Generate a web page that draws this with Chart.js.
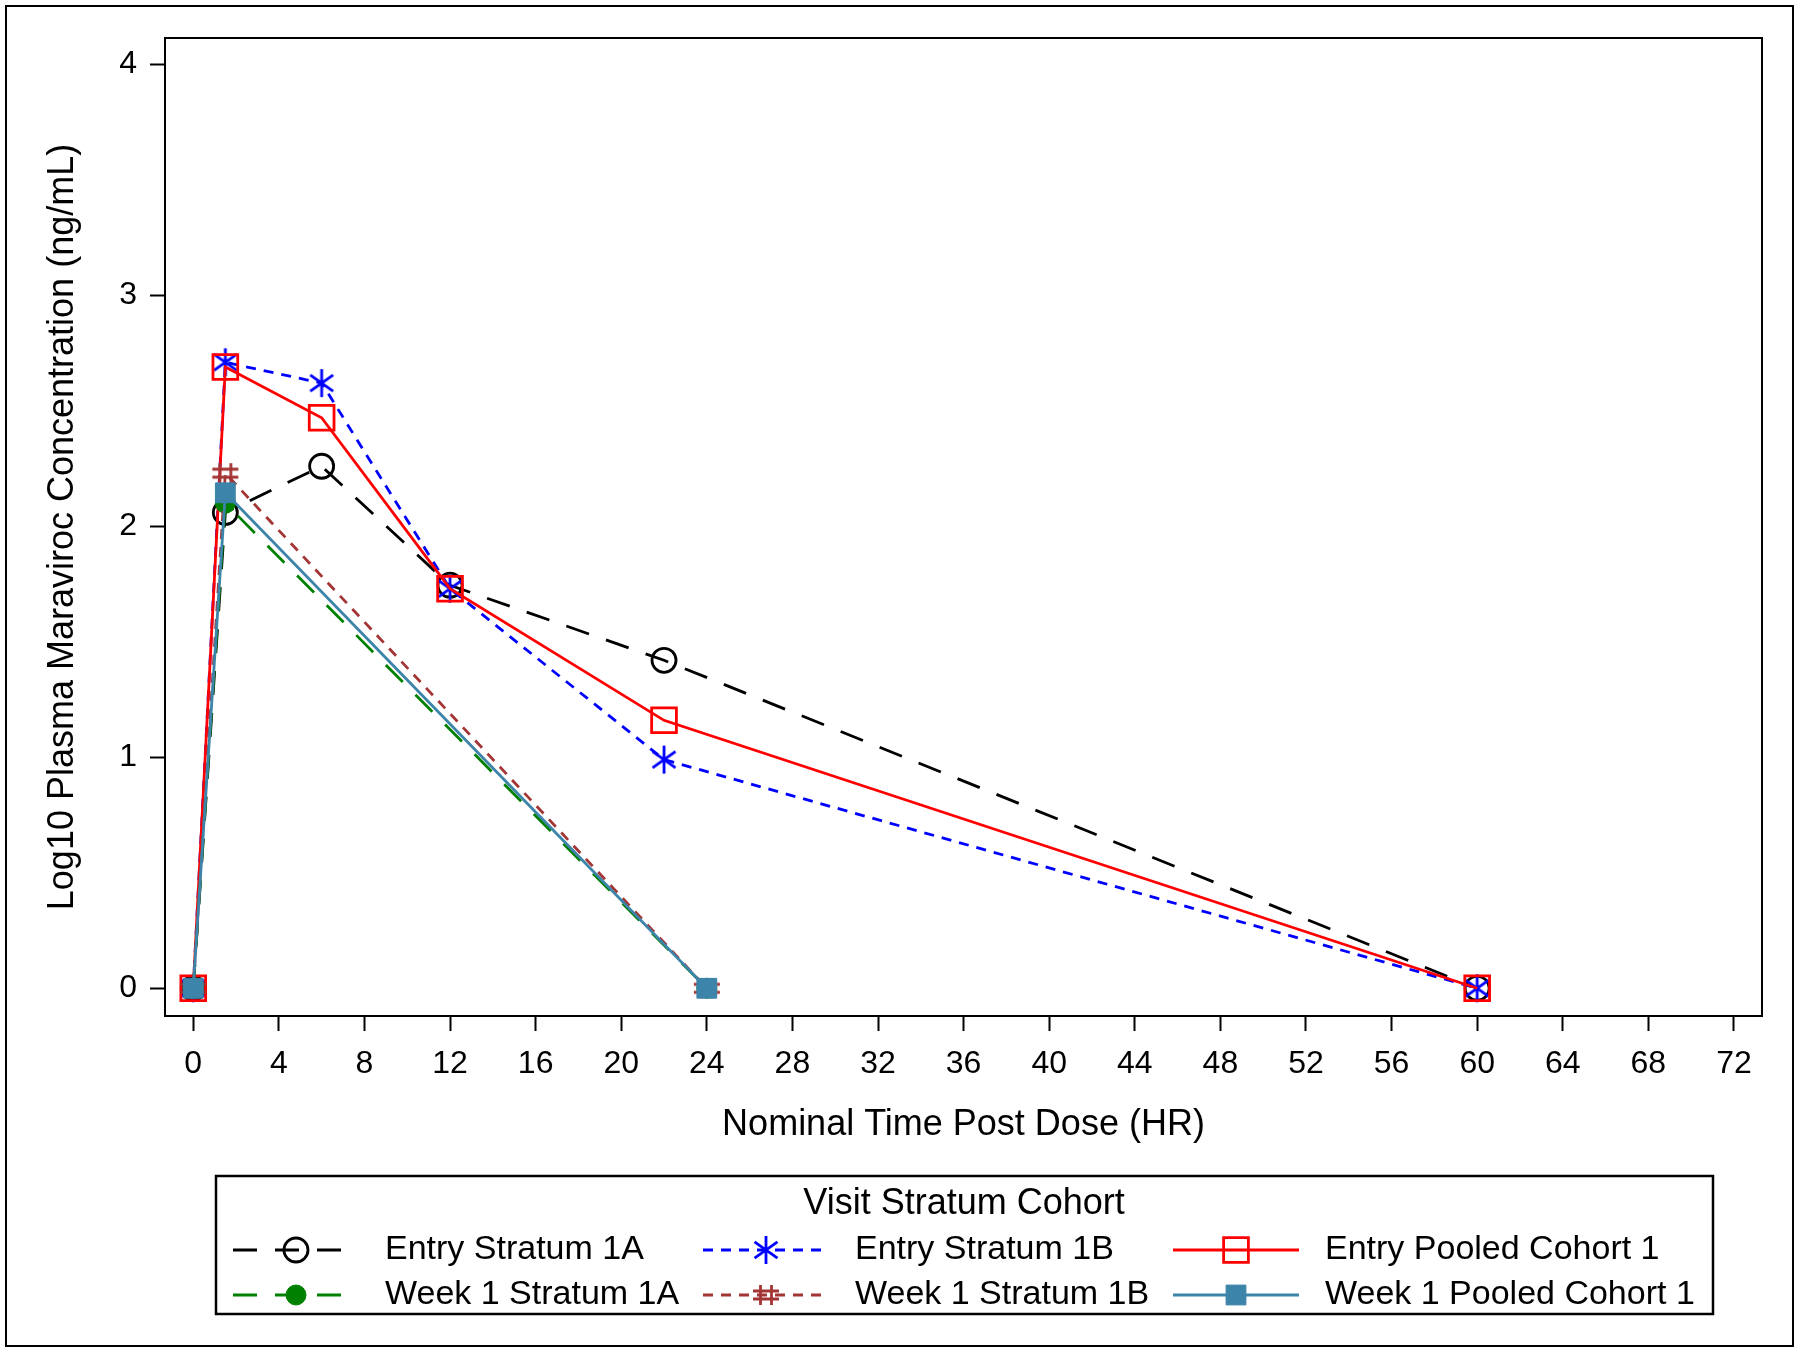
<!DOCTYPE html>
<html>
<head>
<meta charset="utf-8">
<title>Log10 Plasma Maraviroc Concentration</title>
<script src="https://cdn.jsdelivr.net/npm/chart.js@4/dist/chart.umd.min.js"></script>
<style>
  html, body { margin: 0; padding: 0; background: #fff; }
  canvas { display: block; }
</style>
</head>
<body>
<canvas id="pk" width="1800" height="1352"></canvas>
<script>
// nominal sampling times (hours post dose)
const entryHours = [0, 1.5, 6, 12, 22, 60];
const week1Hours = [0, 1.5, 24];

// log10 plasma maraviroc (ng/mL)
const entryStratum1A = [0, 2.06, 2.26, 1.745, 1.42, 0];
const entryStratum1B = [0, 2.71, 2.62, 1.73, 0.99, 0];
const entryPooled = [0, 2.69, 2.47, 1.73, 1.16, 0];
const week1Stratum1A = [0, 2.10, 0];
const week1Stratum1B = [0, 2.23, 0];
const week1Pooled = [0, 2.145, 0];

const xTicks = [0, 4, 8, 12, 16, 20, 24, 28, 32, 36, 40, 44, 48, 52, 56, 60, 64, 68, 72];
const yTicks = [0, 1, 2, 3, 4];
const seriesLabels = [
  "Entry Stratum 1A", "Entry Stratum 1B", "Entry Pooled Cohort 1",
  "Week 1 Stratum 1A", "Week 1 Stratum 1B", "Week 1 Pooled Cohort 1"
];
const legendTitle = "Visit Stratum Cohort";
const xTitle = "Nominal Time Post Dose (HR)";
const yTitle = "Log10 Plasma Maraviroc Concentration (ng/mL)";

const FONT = "'Liberation Sans', Arial, sans-serif";

function pts(xs, ys) {
  return xs.map((x, i) => ({ x: x, y: ys[i] }));
}

// six-armed asterisk marker
function asteriskMark(color) {
  const c = document.createElement("canvas");
  c.width = c.height = 32;
  const g = c.getContext("2d");
  const m = 16, r = 14;
  g.strokeStyle = color;
  g.lineWidth = 2.8;
  g.beginPath();
  [90, 35, 145].forEach((deg) => {
    const a = (deg * Math.PI) / 180;
    g.moveTo(m - Math.cos(a) * r, m - Math.sin(a) * r);
    g.lineTo(m + Math.cos(a) * r, m + Math.sin(a) * r);
  });
  g.stroke();
  return c;
}

// "#" marker
function hashMark(color) {
  const c = document.createElement("canvas");
  c.width = c.height = 32;
  const g = c.getContext("2d");
  const m = 16;
  g.strokeStyle = color;
  g.lineWidth = 2.8;
  g.beginPath();
  g.moveTo(m - 13, m - 4); g.lineTo(m + 13, m - 4);
  g.moveTo(m - 13, m + 4); g.lineTo(m + 13, m + 4);
  g.moveTo(m - 5.5, m - 10); g.lineTo(m - 5.5, m + 10);
  g.moveTo(m + 5.5, m - 10); g.lineTo(m + 5.5, m + 10);
  g.stroke();
  return c;
}

const black = "#000000";
const blue = "#0000ff";
const red = "#ff0000";
const green = "#008000";
const brown = "#a33535";
const steel = "#3c84aa";

const datasets = [
  {
    label: seriesLabels[0], data: pts(entryHours, entryStratum1A),
    borderColor: black, borderDash: [24, 18], borderWidth: 2.8,
    pointStyle: "circle", pointRadius: 12, pointBorderWidth: 2.8,
    pointBorderColor: black, pointBackgroundColor: "rgba(0,0,0,0)", order: 6,
  },
  {
    label: seriesLabels[1], data: pts(entryHours, entryStratum1B),
    borderColor: blue, borderDash: [10, 8], borderWidth: 2.8,
    pointStyle: asteriskMark(blue), pointRadius: 14, order: 5,
  },
  {
    label: seriesLabels[2], data: pts(entryHours, entryPooled),
    borderColor: red, borderWidth: 2.8,
    pointStyle: "rect", pointRadius: 17.5, pointBorderWidth: 2.8,
    pointBorderColor: red, pointBackgroundColor: "rgba(0,0,0,0)", order: 4,
  },
  {
    label: seriesLabels[3], data: pts(week1Hours, week1Stratum1A),
    borderColor: green, borderDash: [24, 18], borderWidth: 2.8,
    pointStyle: "circle", pointRadius: 10, pointBorderWidth: 1,
    pointBorderColor: green, pointBackgroundColor: green, order: 3,
  },
  {
    label: seriesLabels[4], data: pts(week1Hours, week1Stratum1B),
    borderColor: brown, borderDash: [10, 8], borderWidth: 2.8,
    pointStyle: hashMark(brown), pointRadius: 14, order: 2,
  },
  {
    label: seriesLabels[5], data: pts(week1Hours, week1Pooled),
    borderColor: steel, borderWidth: 2.8,
    pointStyle: "rect", pointRadius: 14, pointBorderWidth: 1,
    pointBorderColor: steel, pointBackgroundColor: steel, order: 1,
  },
];

function drawMarker(ctx, ds, x, y) {
  const st = ds.pointStyle;
  ctx.save();
  ctx.setLineDash([]);
  if (st instanceof HTMLCanvasElement) {
    ctx.drawImage(st, x - st.width / 2, y - st.height / 2);
  } else {
    ctx.lineWidth = ds.pointBorderWidth;
    ctx.strokeStyle = ds.pointBorderColor;
    ctx.fillStyle = ds.pointBackgroundColor;
    ctx.beginPath();
    if (st === "circle") {
      ctx.arc(x, y, ds.pointRadius, 0, Math.PI * 2);
    } else {
      const h = ds.pointRadius * Math.SQRT1_2;
      ctx.rect(x - h, y - h, 2 * h, 2 * h);
    }
    ctx.fill();
    ctx.stroke();
  }
  ctx.restore();
}

const decor = {
  id: "decor",
  afterDraw(chart) {
    const ctx = chart.ctx;
    const a = chart.chartArea;
    ctx.save();
    // outer border
    ctx.strokeStyle = "#000";
    ctx.lineWidth = 2;
    ctx.strokeRect(6, 6, 1787, 1340);
    // plot frame
    ctx.strokeRect(a.left, a.top, a.right - a.left, a.bottom - a.top);

    // legend box
    const bx = 216, by = 1176, bw = 1497, bh = 138;
    ctx.lineWidth = 2.5;
    ctx.strokeRect(bx, by, bw, bh);
    ctx.fillStyle = "#000";
    ctx.textBaseline = "middle";
    ctx.textAlign = "center";
    ctx.font = "36px " + FONT;
    ctx.fillText(legendTitle, 964, 1204);

    const colX = [233, 703, 1173];
    const rowY = [1250, 1295];
    const lineLen = 126;
    ctx.font = "34px " + FONT;
    ctx.textAlign = "left";
    datasets.forEach((ds, i) => {
      const cx = colX[i % 3];
      const cy = rowY[Math.floor(i / 3)];
      ctx.save();
      ctx.strokeStyle = ds.borderColor;
      ctx.lineWidth = ds.borderWidth;
      ctx.setLineDash(ds.borderDash || []);
      ctx.beginPath();
      ctx.moveTo(cx, cy);
      ctx.lineTo(cx + lineLen, cy);
      ctx.stroke();
      ctx.restore();
      drawMarker(ctx, ds, cx + lineLen / 2, cy);
      ctx.fillStyle = "#000";
      ctx.fillText(ds.label, cx + 152, cy);
    });
    ctx.restore();
  },
};

const tickGrid = {
  display: true,
  drawOnChartArea: false,
  drawTicks: true,
  tickLength: 15,
  tickWidth: 2,
  tickColor: "#000",
};

new Chart(document.getElementById("pk").getContext("2d"), {
  type: "line",
  data: { datasets: datasets },
  options: {
    responsive: false,
    animation: false,
    devicePixelRatio: 1,
    layout: { padding: { top: 38, right: 38, bottom: 205, left: 0 } },
    plugins: { legend: { display: false }, tooltip: { enabled: false } },
    elements: { line: { tension: 0, fill: false } },
    scales: {
      x: {
        type: "linear",
        min: -1.32,
        max: 73.31,
        grid: tickGrid,
        border: { display: false },
        afterBuildTicks: (s) => { s.ticks = xTicks.map((v) => ({ value: v })); },
        afterFit: (s) => { s.height = 131; },
        ticks: { color: "#000", padding: 14, maxRotation: 0, font: { family: FONT, size: 32 } },
        title: {
          display: true, text: xTitle, color: "#000",
          font: { family: FONT, size: 36 }, padding: { top: 0, bottom: 0 },
        },
      },
      y: {
        min: -0.12,
        max: 4.114,
        grid: tickGrid,
        border: { display: false },
        afterBuildTicks: (s) => { s.ticks = yTicks.map((v) => ({ value: v })); },
        afterFit: (s) => { s.width = 165; },
        ticks: { color: "#000", padding: 13, font: { family: FONT, size: 32 } },
        title: {
          display: true, text: yTitle, color: "#000",
          font: { family: FONT, size: 36 }, padding: { top: 41, bottom: 0 },
        },
      },
    },
  },
  plugins: [decor],
});
</script>
</body>
</html>
